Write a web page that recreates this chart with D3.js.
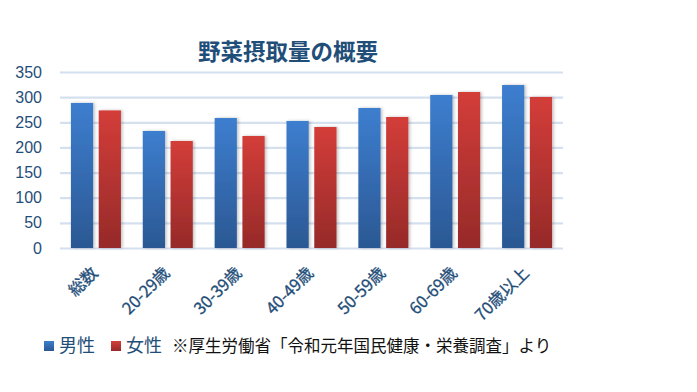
<!DOCTYPE html>
<html><head><meta charset="utf-8">
<script src="https://cdn.jsdelivr.net/npm/d3@7"></script>
<style>body{margin:0;background:#fff}svg{display:block}</style>
</head><body>
<svg id="c" width="697" height="392"></svg>
<script>
const categories = ["総数","20-29歳","30-39歳","40-49歳","50-59歳","60-69歳","70歳以上"];
const maleValues = [288.4, 232.7, 258.5, 252.6, 278.4, 304.3, 324.1];
const femaleValues = [273.6, 212.8, 222.7, 240.6, 260.5, 310.2, 300.3];
const seriesNames = ["男性","女性"];
const yTicks = [0,50,100,150,200,250,300,350];
const title = "野菜摂取量の概要";
const note = "※厚生労働省「令和元年国民健康・栄養調査」より";

const svg = d3.select("#c");
const textColor = "#1F4E79";
const font = "'Noto Sans CJK JP','Liberation Sans',sans-serif";
const m = {left:60, right:134, top:72, bottom:144};
const W = 697, H = 392;

const x0 = d3.scaleBand().domain(categories).range([m.left, W-m.right]).paddingInner(0.304).paddingOuter(0.152);
const x1 = d3.scaleBand().domain(seriesNames).range([0, x0.bandwidth()]).paddingInner(0.2);
const y = d3.scaleLinear().domain([0,350]).range([H-m.bottom, m.top]);

const defs = svg.append("defs");
const grads = [["gBlue","#3D7ECF","#2B5893"],["gRed","#D33D39","#962A29"]];
grads.forEach(([id,c1,c2])=>{
  const g = defs.append("linearGradient").attr("id",id).attr("x1",0).attr("y1",0).attr("x2",0).attr("y2",1);
  g.append("stop").attr("offset","0%").attr("stop-color",c1);
  g.append("stop").attr("offset","100%").attr("stop-color",c2);
});
const f = defs.append("filter").attr("id","sh").attr("x","-30%").attr("y","-10%").attr("width","160%").attr("height","120%");
f.append("feDropShadow").attr("dx",1.5).attr("dy",0).attr("stdDeviation",1.8).attr("flood-color","#000").attr("flood-opacity",0.25);

// grid
const yAxis = d3.axisLeft(y).tickValues(yTicks).tickSize(-(W-m.left-m.right)).tickPadding(18);
const ga = svg.append("g").attr("transform",`translate(${m.left},0)`).call(yAxis);
ga.select(".domain").remove();
ga.selectAll(".tick line").attr("stroke","#D5E0EF").attr("stroke-width",2.2);
ga.selectAll(".tick text").attr("fill",textColor).attr("font-size",16).attr("font-family","'Liberation Sans',Arial,sans-serif");

// bars
const data = categories.map((c,i)=>({cat:c, vals:[{s:"男性",v:maleValues[i]},{s:"女性",v:femaleValues[i]}]}));
const grp = svg.append("g").selectAll("g").data(data).join("g").attr("transform",d=>`translate(${x0(d.cat)},0)`);
grp.selectAll("rect").data(d=>d.vals).join("rect")
  .attr("x",d=>x1(d.s)).attr("width",x1.bandwidth())
  .attr("y",d=>y(d.v)).attr("height",d=>y(0)-y(d.v))
  .attr("fill",d=>d.s==="男性"?"url(#gBlue)":"url(#gRed)")
  .attr("filter","url(#sh)");

// x axis labels
const xAxis = d3.axisBottom(x0).tickSize(0).tickPadding(0);
const gx = svg.append("g").attr("transform",`translate(0,${y(0)})`).call(xAxis);
gx.select(".domain").remove();
gx.selectAll(".tick text")
  .attr("fill",textColor).attr("font-size",16.5).attr("font-family",font)
  .attr("stroke",textColor).attr("stroke-width",0.3)
  .attr("text-anchor","end").attr("dy",null).attr("y",0)
  .attr("transform","translate(3,26) rotate(-45)");

// title
svg.append("text").attr("x",288).attr("y",60).attr("text-anchor","middle")
  .attr("font-size",22.5).attr("font-weight","bold").attr("fill",textColor)
  .attr("font-family",font).text(title);

// legend
const colors = {"男性":"url(#gBlue)","女性":"url(#gRed)"};
const lx = [44,111];
seriesNames.forEach((s,i)=>{
  svg.append("rect").attr("x",lx[i]).attr("y",341).attr("width",10).attr("height",10).attr("fill",colors[s]);
  svg.append("text").attr("x",lx[i]+15).attr("y",352).attr("font-size",18).attr("fill",textColor).attr("font-family",font).text(s);
});
svg.append("text").attr("x",172).attr("y",352).attr("font-size",16.5).attr("fill","#111").attr("font-family",font).text(note);
</script>
</body></html>
